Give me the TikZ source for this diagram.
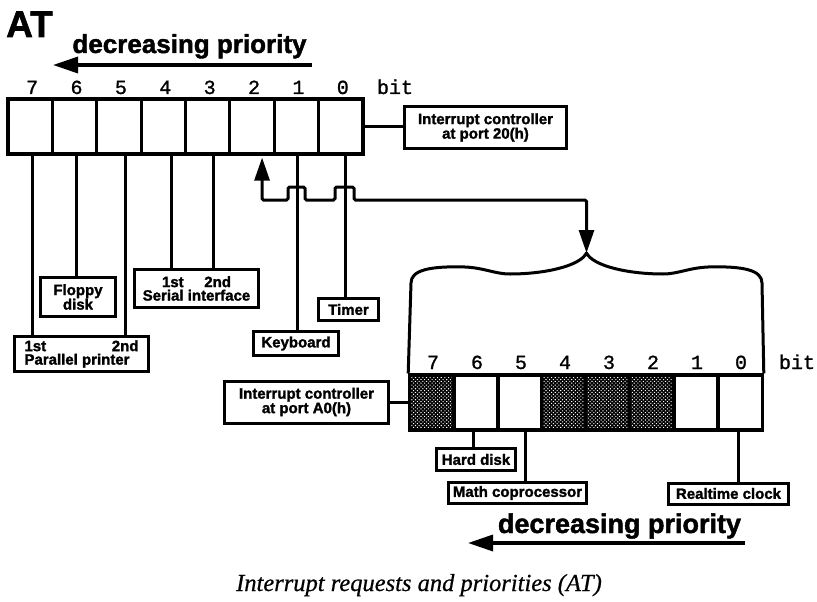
\documentclass[tikz,border=0pt]{standalone}
\usepackage{fontspec}
\setmainfont{Liberation Sans}
\newfontfamily\heavy{Liberation Sans}[BoldFeatures={FakeBold=1.6}]
\newfontfamily\monof{Liberation Mono}[UprightFeatures={FakeBold=1.2}]
\newfontfamily\capf{Liberation Serif}[ItalicFeatures={FakeBold=0.6}]
\usetikzlibrary{arrows.meta,patterns.meta,calc}
\begin{document}
\begin{tikzpicture}[x=1pt,y=-1pt,
  cell/.style={draw, line width=3.2pt, minimum width=44.4pt, minimum height=55pt, inner sep=0pt},
  shaded/.style={preaction={fill=black}, pattern={Dots[distance=2.6pt,radius=0.75pt,angle=45]}, pattern color=white},
  lbl/.style={draw, line width=3pt, font=\heavy\bfseries\fontsize{15}{14.5}\selectfont, align=center, inner sep=0.5pt},
  conn/.style={line width=3pt},
  bignum/.style={font=\monof\fontsize{20}{20}\selectfont, anchor=base, inner sep=0pt},
  prio/.style={font=\heavy\bfseries\fontsize{26}{26}\selectfont, anchor=base, inner sep=0pt},
  prioarrow/.style={line width=3.4pt, -{Triangle[length=25pt,width=16pt]}}
]
\useasboundingbox (0,0) rectangle (817,602);

% title
\node[font=\heavy\bfseries\fontsize{37}{37}\selectfont, anchor=base west, inner sep=0pt] (title) at (6,37) {AT};

% top priority arrow
\node[prio] (dptop) at (189.5,53) {decreasing priority};
\coordinate (dptr) at (312,65);
\coordinate (dptl) at (53,65);
\draw[prioarrow] (dptr) -- (dptl);

% top register (port 20h)
\foreach \i [evaluate=\i as \b using int(7-\i)] in {0,...,7} {
  \node[cell] (t\b) at ({8+44.375*(\i+0.5)},126.5) {};
  \node[bignum] (tn\b) at ({10+44.375*(\i+0.5)},94) {\b};
}
\node[bignum] (tbit) at (395,94) {bit};

% lower register (port A0h)
\foreach \i [evaluate=\i as \b using int(7-\i)] in {0,...,7} {
  \node[bignum] (bn\b) at ({411+44*(\i+0.5)},369) {\b};
}
\node[cell, shaded] (b7) at (432,402.5) {};
\node[cell] (b6) at (476,402.5) {};
\node[cell] (b5) at (520,402.5) {};
\node[cell, shaded] (b4) at (564,402.5) {};
\node[cell, shaded] (b3) at (608,402.5) {};
\node[cell, shaded] (b2) at (652,402.5) {};
\node[cell] (b1) at (696,402.5) {};
\node[cell] (b0) at (740,402.5) {};
\node[bignum] (bbit) at (797,369) {bit};

% label boxes
\node[lbl, minimum width=162pt, minimum height=42pt] (ic20) at (485.5,127.5) {Interrupt controller\\at port 20(h)};
\node[lbl, minimum width=75pt, minimum height=39pt] (fd) at (78,297) {Floppy\\disk};
\node[lbl, minimum width=134pt, minimum height=35pt] (pp) at (81.5,354) {\makebox[114pt]{1st\hfill 2nd}\\[-1pt]\makebox[114pt][l]{Parallel printer}};
\node[lbl, minimum width=124pt, minimum height=38pt] (si) at (196.5,288.5) {\makebox[69pt]{1st\hfill 2nd}\\[-1pt]Serial interface};
\node[lbl, minimum width=60pt, minimum height=22pt] (tm) at (348.5,309.5) {Timer};
\node[lbl, minimum width=85pt, minimum height=24pt] (kb) at (296,343.5) {Keyboard};
\node[lbl, minimum width=164pt, minimum height=42pt] (icA0) at (306.5,402) {Interrupt controller\\at port A0(h)};
\node[lbl, minimum width=79pt, minimum height=22pt] (hd) at (476,459.5) {Hard disk};
\node[lbl, minimum width=138pt, minimum height=21pt] (mc) at (517.5,493) {Math coprocessor};
\node[lbl, minimum width=120pt, minimum height=21pt] (rtc) at (728.5,493.5) {Realtime clock};

% register to controller boxes
\draw[conn] (t0.east) -- (t0.east -| ic20.west);
\draw[conn] (icA0.east) -- (icA0.east -| b7.west);

% top register request lines
\draw[conn] ($(t7.south)+(2,0)$) coordinate (l7) -- (l7 |- pp.north);
\draw[conn] ($(t6.south)+(1.5,0)$) coordinate (l6) -- (l6 |- fd.north);
\draw[conn] ($(t5.south)+(7,0)$) coordinate (l5) -- (l5 |- pp.north);
\draw[conn] ($(t4.south)+(7.7,0)$) coordinate (l4) -- (l4 |- si.north);
\draw[conn] ($(t3.south)+(6.3,0)$) coordinate (l3) -- (l3 |- si.north);
\draw[conn] ($(t1.south)+(0.6,0)$) coordinate (l1) -- (l1 |- kb.north);
\draw[conn] ($(t0.south)+(4.2,0)$) coordinate (l0) -- (l0 |- tm.north);

% lower register request lines
\draw[conn] ($(b6.south)+(-3,0)$) coordinate (m6) -- (m6 |- hd.north);
\draw[conn] ($(b5.south)+(5,0)$) coordinate (m5) -- (m5 |- mc.north);
\draw[conn] ($(b0.south)+(-2,0)$) coordinate (m0) -- (m0 |- rtc.north);

% cascade line with hop-overs
\coordinate (bus) at (0,200);
\coordinate (btip) at (586.5,253);
\draw[conn, {Triangle[length=23pt,width=15pt]}-{Triangle[length=23pt,width=15pt]}, rounded corners=1.5pt]
  ($(t2.south)+(10,2)$) coordinate (l2) -- (l2 |- bus)
  -- ($(l1 |- bus)+(-9,0)$) -- ++(0,-13) -- ++(17,0) -- ++(0,13)
  -- ($(l0 |- bus)+(-10,0)$) -- ++(0,-13) -- ++(19,0) -- ++(0,13)
  -- (btip |- bus) -- (btip);

% brace enclosing lower register
\draw[conn, line join=round]
  (b7.north west) -- (411,283)
  .. controls (411,270) and (430,266) .. (465,267)
  .. controls (485,268) and (495,274) .. (510,274)
  .. controls (545,274) and (580,266) .. (btip)
  .. controls (593,266) and (628,274) .. (663,274)
  .. controls (678,274) and (688,268) .. (708,267)
  .. controls (743,266) and (762,270) .. (762,283)
  -- (b0.north east);

% bottom priority arrow
\node[prio, font=\heavy\bfseries\fontsize{27}{27}\selectfont] (dpbot) at (619.5,533) {decreasing priority};
\coordinate (dpbr) at (745,543);
\coordinate (dpbl) at (468,543);
\draw[prioarrow] (dpbr) -- (dpbl);

% caption
\node[font=\capf\itshape\fontsize{24.5}{24.5}\selectfont, anchor=base, inner sep=0pt] (cap) at (419,591) {Interrupt requests and priorities (AT)};
\end{tikzpicture}
\end{document}
